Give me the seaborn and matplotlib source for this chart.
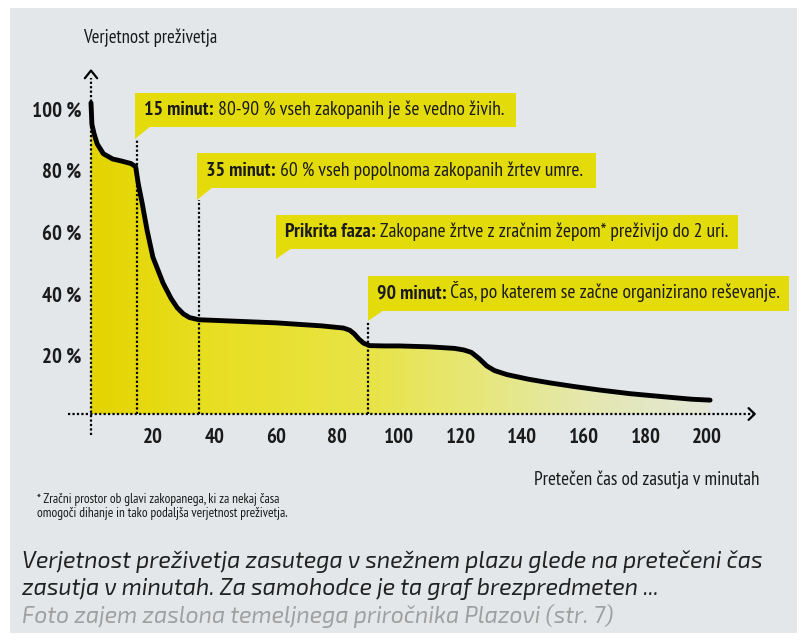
import seaborn as sns
import matplotlib.pyplot as plt
import matplotlib.transforms as mtransforms
import numpy as np
from matplotlib.colors import LinearSegmentedColormap
from matplotlib.patches import Polygon, Rectangle

# survival curve
minutes = [0, 0.3, 1, 2, 4, 7, 10, 13, 14.5, 15.3, 16.6, 18.2, 20.1, 23.4, 26, 28, 30, 32, 35,
           45, 60, 75, 82, 84, 85.5, 87, 88.5, 90.5, 95, 100, 110, 118, 121, 123.5, 126, 128.5,
           131, 135, 142, 149, 157, 165, 175, 187, 195, 201]
survival = [101, 94, 91, 87.7, 84.5, 82.8, 82.1, 81.3, 80.3, 75, 68.5, 59.7, 50.9, 42.5, 37.5, 34.5, 32.5, 31.3, 30.6,
            30.2, 29.6, 28.6, 27.9, 27.2, 26, 24.3, 23, 22.2, 22.1, 22.1, 21.8, 21.3, 20.8, 20, 18, 15.6,
            14.1, 12.8, 11.3, 10.1, 8.9, 7.8, 6.6, 5.5, 4.8, 4.5]

x_ticks = [20, 40, 60, 80, 100, 120, 140, 160, 180, 200]
y_ticks = [20, 40, 60, 80, 100]
y_labels = ["20 %", "40 %", "60 %", "80 %", "100 %"]

# marked moments (minute, where the dotted line stops)
mark_minutes = [15, 35, 90]
mark_tops = [89.3, 69.5, 30.2]

box_bold = ["15 minut:", "35 minut:", "Prikrita faza:", "90 minut:"]
box_rest = [" 80-90 % vseh zakopanih je še vedno živih.",
            " 60 % vseh popolnoma zakopanih žrtev umre.",
            " Zakopane žrtve z zračnim žepom* preživijo do 2 uri.",
            " Čas, po katerem se začne organizirano reševanje."]

sns.set_theme(style="white")
narrow = ["PT Sans Narrow", "DejaVu Sans"]
plt.rcParams["font.family"] = narrow

BG = "#e3e7ea"
YEL = "#e3dc0a"
INK = "#1a1a1a"
W, H = 806, 641

fig = plt.figure(figsize=(W / 100, H / 100), dpi=100, facecolor="white")

def fx(x):
    return x / W

def fy(y):
    return 1 - y / H

# grey panel
fig.patches.append(Rectangle((fx(10), fy(633)), fx(787), 625 / H, transform=fig.transFigure,
                             facecolor=BG, edgecolor="none", zorder=-5))

ax = fig.add_axes([91 / W, (H - 414) / H, 677.6 / W, 345 / H])
ax.set_zorder(3)
ax.set_facecolor("none")
ax.set_xlim(0, 220)
ax.set_ylim(0, 112)
for s in ax.spines.values():
    s.set_visible(False)

# gradient fill under the curve
poly = ax.fill_between(minutes, survival, 0, color="none")
cmap = LinearSegmentedColormap.from_list("fade", [
    (0.0, (0.89, 0.83, 0.0)), (0.17, (0.91, 0.87, 0.12)), (0.45, (0.91, 0.895, 0.28)),
    (0.6, (0.905, 0.905, 0.45)), (0.8, (0.895, 0.91, 0.68)), (1.0, (0.89, 0.905, 0.85))])
grad = np.linspace(0, 1, 256).reshape(1, -1)
im = ax.imshow(grad, cmap=cmap, extent=[0, 201, 0, 102], aspect="auto", origin="lower", zorder=1)
im.set_clip_path(poly.get_paths()[0], ax.transData)

sns.lineplot(x=minutes, y=survival, ax=ax, color="black", linewidth=3.5, sort=False,
             solid_capstyle="round", solid_joinstyle="round", zorder=4, clip_on=False)

dots = dict(color="black", linewidth=1.6, linestyle=(0, (1, 1)), clip_on=False, zorder=3)
ax.plot([-7.5, 215], [0, 0], **dots)
ax.plot([0, 0], [-6.8, 109], **dots)
for m, top in zip(mark_minutes, mark_tops):
    ax.plot([m, m], [0, top], **dots)

# arrow heads
arr = dict(color="black", linewidth=1.6, clip_on=False, zorder=3)
ax.plot([-2, 0, 2], [109, 111.5, 109], **arr)
ax.plot([213.5, 215.5, 213.5], [1.9, 0, -1.9], **arr)

ax.set_xticks(x_ticks)
ax.set_xticklabels([str(v) for v in x_ticks], fontweight="bold", fontsize=15, color=INK)
ax.set_yticks(y_ticks)
ax.set_yticklabels(y_labels, fontweight="bold", fontsize=15, color=INK)
ax.tick_params(axis="both", length=0)
ax.tick_params(axis="x", pad=10)
ax.tick_params(axis="y", pad=7)
down = mtransforms.ScaledTranslation(0, -3 / 100, fig.dpi_scale_trans)
for lbl in ax.get_yticklabels():
    lbl.set_transform(lbl.get_transform() + down)

# annotation boxes (pixel layout)
boxes = [(135, 516, 93, 127, 139), (197, 596, 153, 188, 200),
         (276, 738, 215, 249, 259), (368, 789, 276, 311, 321)]
for (x0, x1, y0, y1, tip), b, r in zip(boxes, box_bold, box_rest):
    fig.patches.append(Rectangle((fx(x0), fy(y1)), (x1 - x0) / W, (y1 - y0) / H,
                                 transform=fig.transFigure, facecolor=YEL, edgecolor="none", zorder=1))
    fig.patches.append(Polygon([(fx(x0), fy(y1 - 1)), (fx(x0), fy(tip)), (fx(x0 + 16), fy(y1 - 1))],
                               transform=fig.transFigure, facecolor=YEL, edgecolor="none", zorder=1))
    t = fig.text(fx(x0 + 9), fy((y0 + y1) / 2 + 5), b, fontsize=14.3, fontweight="bold",
                 va="baseline", ha="left", color=INK, zorder=5)
    ax.annotate(r, xy=(1, 0), xycoords=t, va="bottom", ha="left", fontsize=14,
                color=INK, annotation_clip=False, zorder=6)

fig.text(fx(83), fy(38), "Verjetnost preživetja", fontsize=13.5, va="center", ha="left", color=INK)
fig.text(fx(760), fy(480), "Pretečen čas od zasutja v minutah", fontsize=13.9, va="center", ha="right",
         color=INK)
fig.text(fx(37), fy(499), "* Zračni prostor ob glavi zakopanega, ki za nekaj časa", fontsize=9.6,
         va="center", ha="left", color=INK)
fig.text(fx(37), fy(513), "omogoči dihanje in tako podaljša verjetnost preživetja.", fontsize=9.6,
         va="center", ha="left", color=INK)

cap = dict(family=["Exo 2", "Open Sans", "DejaVu Sans"], fontstyle="italic", fontweight="light",
           fontsize=16.6, ha="left", va="center")
fig.text(fx(22), fy(562), "Verjetnost preživetja zasutega v snežnem plazu glede na pretečeni čas",
         color="#222222", **cap)
fig.text(fx(22), fy(589), "zasutja v minutah. Za samohodce je ta graf brezpredmeten ...",
         color="#222222", **cap)
fig.text(fx(22), fy(616), "Foto zajem zaslona temeljnega priročnika Plazovi (str. 7)",
         color="#a0a0a0", **cap)

fig.savefig("out.png", dpi=100, facecolor="white")
